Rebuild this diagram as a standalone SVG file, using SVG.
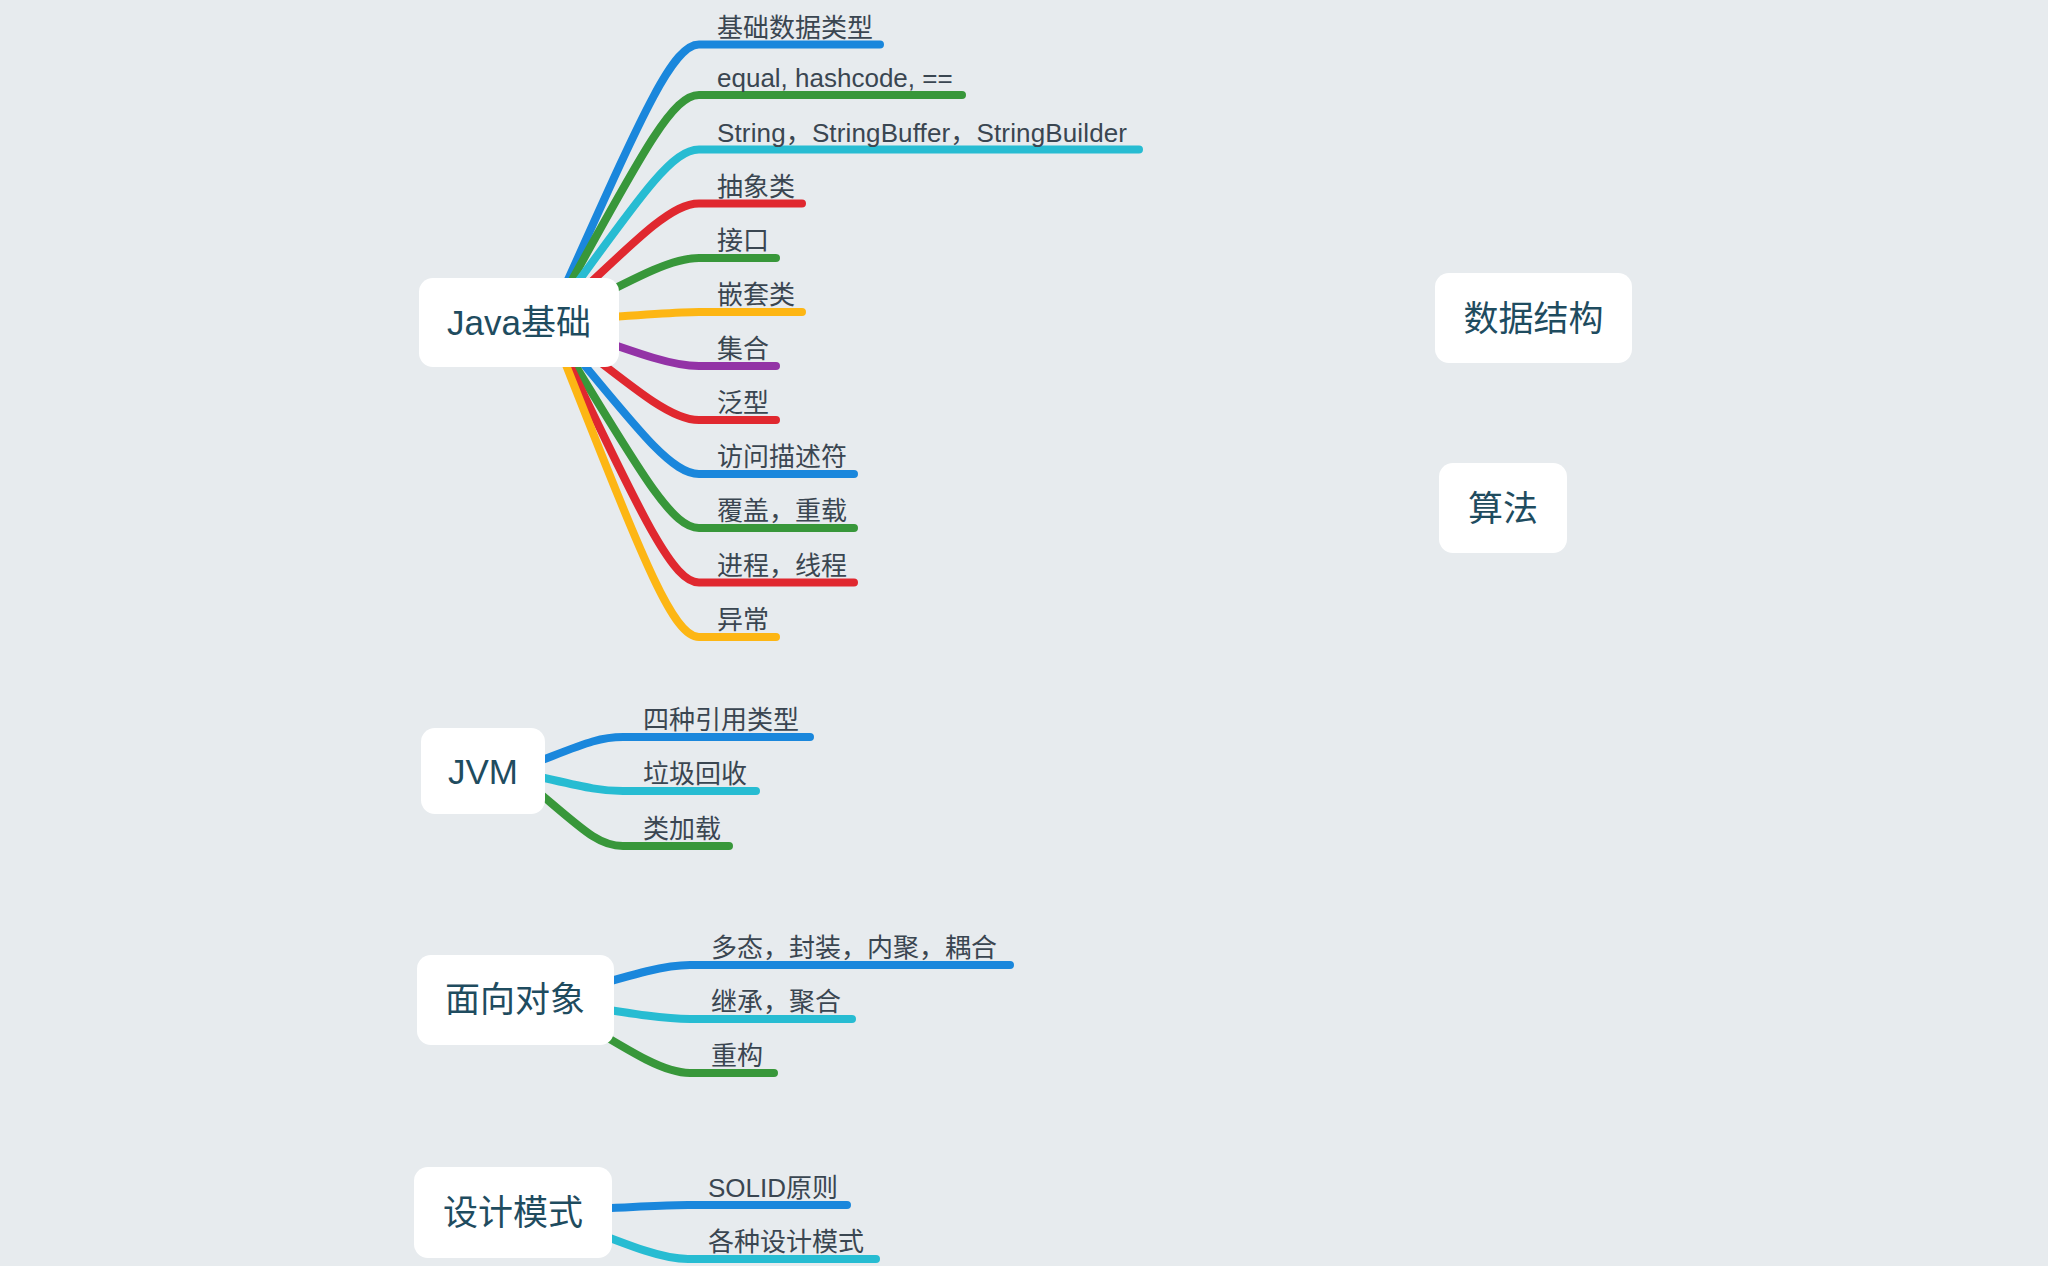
<svg xmlns="http://www.w3.org/2000/svg" width="2048" height="1266" viewBox="0 0 2048 1266">
<style>
.bg{fill:#e7ebee}
.node rect{fill:#ffffff}
.node text{font-family:"Liberation Sans","Noto Sans CJK SC",sans-serif;font-size:35px;fill:#1f4c5f;text-anchor:middle}
.lbl{font-family:"Liberation Sans","Noto Sans CJK SC",sans-serif;font-size:26px;fill:#3a4651}
.c{fill:none;stroke-width:8;stroke-linecap:round;stroke-linejoin:round}
.blue{stroke:#1a87dc}.green{stroke:#38973a}.cyan{stroke:#27bcd2}.red{stroke:#e0282f}.yellow{stroke:#fdb614}.purple{stroke:#9333a6}
</style>
<rect class="bg" x="0" y="0" width="2048" height="1266"/>
<g id="connectors">
<path class="c blue" d="M549 322 C639 122.2 671 44.5 699 44.5 L880 44.5"/>
<path class="c green" d="M549 322 C639 158.6 671 95 699 95 L962 95"/>
<path class="c cyan" d="M549 322 C639 197.8 671 149.5 699 149.5 L1139 149.5"/>
<path class="c red" d="M549 322 C639 236.7 671 203.5 699 203.5 L802 203.5"/>
<path class="c green" d="M549 322 C639 275.9 671 258 699 258 L776 258"/>
<path class="c yellow" d="M549 322 C639 314.8 671 312 699 312 L802 312"/>
<path class="c purple" d="M549 322 C639 353.7 671 366 699 366 L776 366"/>
<path class="c red" d="M549 322 C639 392.6 671 420 699 420 L776 420"/>
<path class="c blue" d="M549 322 C639 431.4 671 474 699 474 L854 474"/>
<path class="c green" d="M549 322 C639 470.3 671 528 699 528 L854 528"/>
<path class="c red" d="M549 322 C639 509.6 671 582.5 699 582.5 L854 582.5"/>
<path class="c yellow" d="M549 322 C639 548.8 671 637 699 637 L776 637"/>
<path class="c blue" d="M513 771 C579 746.5 595 737 623 737 L810 737"/>
<path class="c cyan" d="M513 771 C579 785.4 595 791 623 791 L756 791"/>
<path class="c green" d="M513 771 C579 825 595 846 623 846 L729 846"/>
<path class="c blue" d="M545 1000 C632 974.8 662 965 690 965 L1010 965"/>
<path class="c cyan" d="M545 1000 C632 1013.7 662 1019 690 1019 L852 1019"/>
<path class="c green" d="M545 1000 C632 1052.6 662 1073 690 1073 L774 1073"/>
<path class="c blue" d="M543 1212 C630 1207 660 1205 688 1205 L847 1205"/>
<path class="c cyan" d="M543 1212 C630 1245.8 660 1259 688 1259 L876 1259"/>
</g>
<g id="labels">
<text class="lbl" x="717" y="36.5">基础数据类型</text>
<text class="lbl" x="717" y="87">equal, hashcode, ==</text>
<text class="lbl" x="717" y="141.5" textLength="410">String，StringBuffer，StringBuilder</text>
<text class="lbl" x="717" y="195.5">抽象类</text>
<text class="lbl" x="717" y="250">接口</text>
<text class="lbl" x="717" y="304">嵌套类</text>
<text class="lbl" x="717" y="358">集合</text>
<text class="lbl" x="717" y="412">泛型</text>
<text class="lbl" x="717" y="466">访问描述符</text>
<text class="lbl" x="717" y="520">覆盖，重载</text>
<text class="lbl" x="717" y="574.5">进程，线程</text>
<text class="lbl" x="717" y="629">异常</text>
<text class="lbl" x="643" y="729">四种引用类型</text>
<text class="lbl" x="643" y="783">垃圾回收</text>
<text class="lbl" x="643" y="838">类加载</text>
<text class="lbl" x="711" y="957">多态，封装，内聚，耦合</text>
<text class="lbl" x="711" y="1011">继承，聚合</text>
<text class="lbl" x="711" y="1065">重构</text>
<text class="lbl" x="708" y="1197">SOLID原则</text>
<text class="lbl" x="708" y="1251">各种设计模式</text>
</g>
<g id="node-java" class="node"><rect x="419" y="278" width="200" height="89" rx="14"/><text x="519" y="335">Java基础</text></g>
<g id="node-jvm" class="node"><rect x="421" y="728" width="124" height="86" rx="14"/><text x="483" y="784">JVM</text></g>
<g id="node-oo" class="node"><rect x="417" y="955" width="197" height="90" rx="14"/><text x="515" y="1012">面向对象</text></g>
<g id="node-dp" class="node"><rect x="414" y="1167" width="198" height="91" rx="14"/><text x="513" y="1225">设计模式</text></g>
<g id="node-ds" class="node"><rect x="1435" y="273" width="197" height="90" rx="14"/><text x="1533.5" y="330.5">数据结构</text></g>
<g id="node-algo" class="node"><rect x="1439" y="463" width="128" height="90" rx="14"/><text x="1503" y="520.5">算法</text></g>
</svg>
